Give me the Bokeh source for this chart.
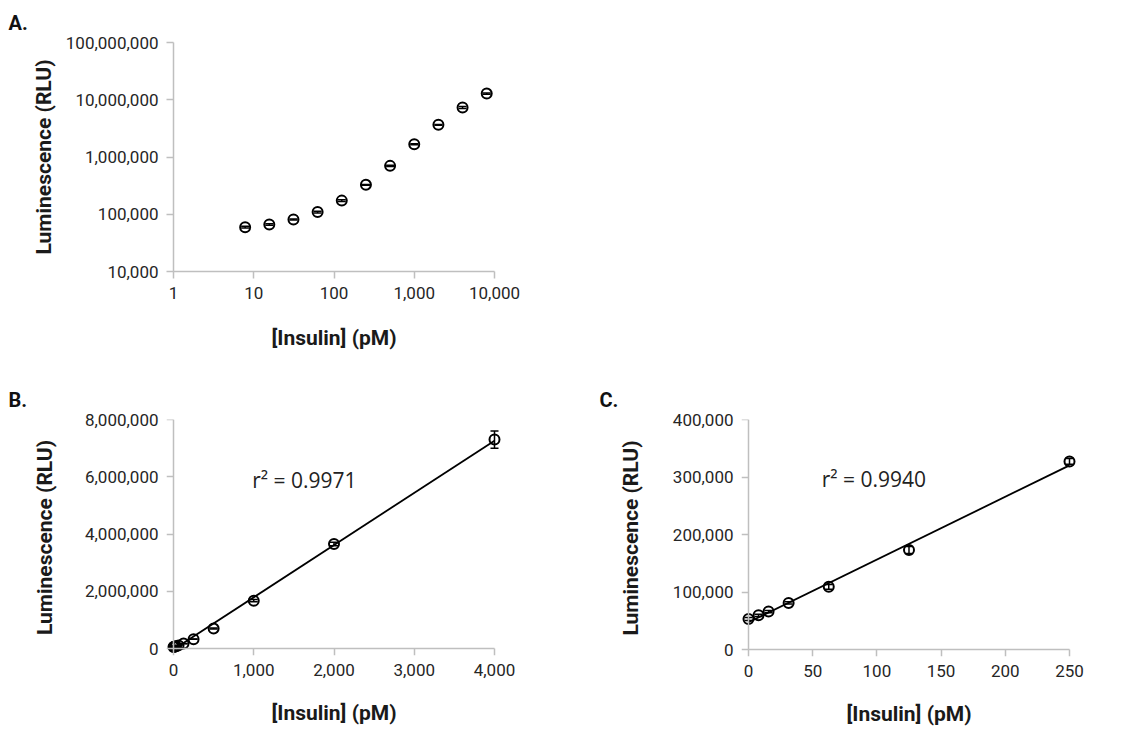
import numpy as np
from bokeh.plotting import figure
from bokeh.models import (ColumnDataSource, Whisker, TeeHead, Label, NumeralTickFormatter,
                          FixedTicker, Range1d, LinearAxis)
from bokeh.layouts import column, row
from bokeh.embed import file_html
from bokeh.resources import INLINE

# ---- data ----
conc_pm = [0, 7.8125, 15.625, 31.25, 62.5, 125, 250, 500, 1000, 2000, 4000, 8000]
lum_rlu = [53000, 59500, 66000, 81000, 109000, 173000, 327000, 700000, 1670000, 3650000, 7300000, 12800000]
lum_sd = [2500, 2000, 2000, 2000, 4000, 6000, 5000, 15000, 40000, 60000, 300000, 350000]

panel_labels = ["A.", "B.", "C."]
r2_texts = ["r² = 0.9971", "r² = 0.9940"]
x_title = "[Insulin] (pM)"
y_title = "Luminescence (RLU)"

x_ticks_a = [1, 10, 100, 1000, 10000]
y_ticks_a = [1e4, 1e5, 1e6, 1e7, 1e8]
x_ticks_b = [0, 1000, 2000, 3000, 4000]
y_ticks_b = [0, 2e6, 4e6, 6e6, 8e6]
x_ticks_c = [0, 50, 100, 150, 200, 250]
y_ticks_c = [0, 1e5, 2e5, 3e5, 4e5]

AX = "#bfbfbf"
TICK_FONT = "Roboto"
TITLE_FONT = "Roboto"
TICK = 7   # tick length, px
PAD = 7    # px of breathing room so markers on the axes are not clipped


def style_axis(ax, draw_line=True):
    ax.axis_line_color = AX if draw_line else None
    ax.axis_line_width = 1.5
    ax.major_tick_line_color = AX if draw_line else None
    ax.major_tick_line_width = 1.5
    ax.major_tick_in = 0
    ax.major_tick_out = TICK if draw_line else 0
    ax.minor_tick_line_color = None
    ax.major_label_text_font = TICK_FONT
    ax.major_label_text_font_size = "17px"
    ax.major_label_text_color = "#262626"
    ax.major_label_standoff = 8
    ax.axis_label_text_font = TITLE_FONT
    ax.axis_label_text_font_size = "21px"
    ax.axis_label_text_font_style = "bold"
    ax.axis_label_text_color = "#1a1a1a"
    ax.formatter = NumeralTickFormatter(format="0,0")


def style(p, xticks, yticks, ystand, xstand, draw_line=True):
    p.xaxis.ticker = FixedTicker(ticks=xticks)
    p.yaxis.ticker = FixedTicker(ticks=yticks)
    for ax in (p.xaxis[0], p.yaxis[0]):
        style_axis(ax, draw_line)
    p.xaxis.axis_label = x_title
    p.yaxis.axis_label = y_title
    p.yaxis.axis_label_standoff = ystand
    p.xaxis.axis_label_standoff = xstand
    p.xgrid.visible = False
    p.ygrid.visible = False
    p.outline_line_color = None
    p.background_fill_color = "white"
    p.border_fill_color = "white"


def panel_title(p, text, offset):
    p.title.text = text
    p.title.align = "left"
    p.title.offset = offset
    p.title.standoff = 16
    p.title.text_font = TITLE_FONT
    p.title.text_font_style = "bold"
    p.title.text_font_size = "20px"
    p.title.text_color = "#111111"


def add_points(p, xs, ys, sds):
    src = ColumnDataSource(dict(x=xs, y=ys,
                                upper=[a + b for a, b in zip(ys, sds)],
                                lower=[a - b for a, b in zip(ys, sds)]))
    w = Whisker(source=src, base="x", upper="upper", lower="lower", dimension="height",
                line_color="black", line_width=1.5,
                upper_head=TeeHead(size=8, line_color="black", line_width=1.5),
                lower_head=TeeHead(size=8, line_color="black", line_width=1.5))
    p.add_layout(w)
    p.scatter("x", "y", source=src, marker="circle", size=10, fill_alpha=0,
              line_color="black", line_width=2)


def add_fit(p, xs, ys):
    m, b = np.polyfit(np.array(xs, dtype=float), np.array(ys, dtype=float), 1)
    x0, x1 = min(xs), max(xs)
    p.line([x0, x1], [m * x0 + b, m * x1 + b], line_color="black", line_width=1.8)


def padded_linear(p, xticks, yticks, fw, fh):
    # extend ranges by PAD px so edge markers are drawn whole; the visible axis
    # lines/ticks are extra axes pinned at 0, the labelled axes sit at the frame edge
    dx = (xticks[-1] - xticks[0]) / fw * PAD
    dy = (yticks[-1] - yticks[0]) / fh * PAD
    p.x_range = Range1d(xticks[0] - dx, xticks[-1] + dx)
    p.y_range = Range1d(yticks[0] - dy, yticks[-1])
    for place, ticks in (("below", xticks), ("left", yticks)):
        ax = LinearAxis(ticker=FixedTicker(ticks=ticks), fixed_location=0, bounds=(ticks[0], ticks[-1]))
        style_axis(ax, True)
        ax.major_label_text_font_size = "0px"
        ax.major_label_text_color = None
        ax.major_label_standoff = 0
        p.add_layout(ax, place)


# ---- Panel A (log-log) ----
pa = figure(frame_width=321, frame_height=229, x_axis_type="log", y_axis_type="log",
            x_range=Range1d(x_ticks_a[0], x_ticks_a[-1]), y_range=Range1d(y_ticks_a[0], y_ticks_a[-1]),
            output_backend="svg", toolbar_location=None,
            min_border_left=173, min_border_right=66, min_border_top=42, min_border_bottom=99)
style(pa, x_ticks_a, y_ticks_a, 7, 24)
panel_title(pa, panel_labels[0], -165)
add_points(pa, conc_pm[1:], lum_rlu[1:], lum_sd[1:])

# ---- Panel B (linear, 0..4000 pM) ----
nb = conc_pm.index(4000) + 1
pb = figure(frame_width=321 + 2 * PAD, frame_height=229 + PAD,
            output_backend="svg", toolbar_location=None,
            min_border_left=173 - PAD, min_border_right=66 - PAD, min_border_top=49, min_border_bottom=74)
style(pb, x_ticks_b, y_ticks_b, 25, 22, draw_line=False)
padded_linear(pb, x_ticks_b, y_ticks_b, 321, 229)
panel_title(pb, panel_labels[1], -158)
add_fit(pb, conc_pm[:nb], lum_rlu[:nb])
add_points(pb, conc_pm[:nb], lum_rlu[:nb], lum_sd[:nb])
pb.add_layout(Label(x=980, y=5.88e6, text=r2_texts[0], text_font="Open Sans", text_font_size="21px",
                    text_color="#222222", text_baseline="middle"))

# ---- Panel C (linear, 0..250 pM) ----
nc = conc_pm.index(250) + 1
pc = figure(frame_width=321 + 2 * PAD, frame_height=230 + PAD,
            output_backend="svg", toolbar_location=None,
            min_border_left=188 - PAD, min_border_right=44, min_border_top=48, min_border_bottom=74)
style(pc, x_ticks_c, y_ticks_c, 27, 22, draw_line=False)
padded_linear(pc, x_ticks_c, y_ticks_c, 321, 230)
panel_title(pc, panel_labels[2], -142)
add_fit(pc, conc_pm[:nc], lum_rlu[:nc])
add_points(pc, conc_pm[:nc], lum_rlu[:nc], lum_sd[:nc])
pc.add_layout(Label(x=57, y=296000, text=r2_texts[1], text_font="Open Sans", text_font_size="21px",
                    text_color="#222222", text_baseline="middle"))

layout = column(pa, row(pb, pc))
open("out.html", "w").write(file_html(layout, INLINE))
